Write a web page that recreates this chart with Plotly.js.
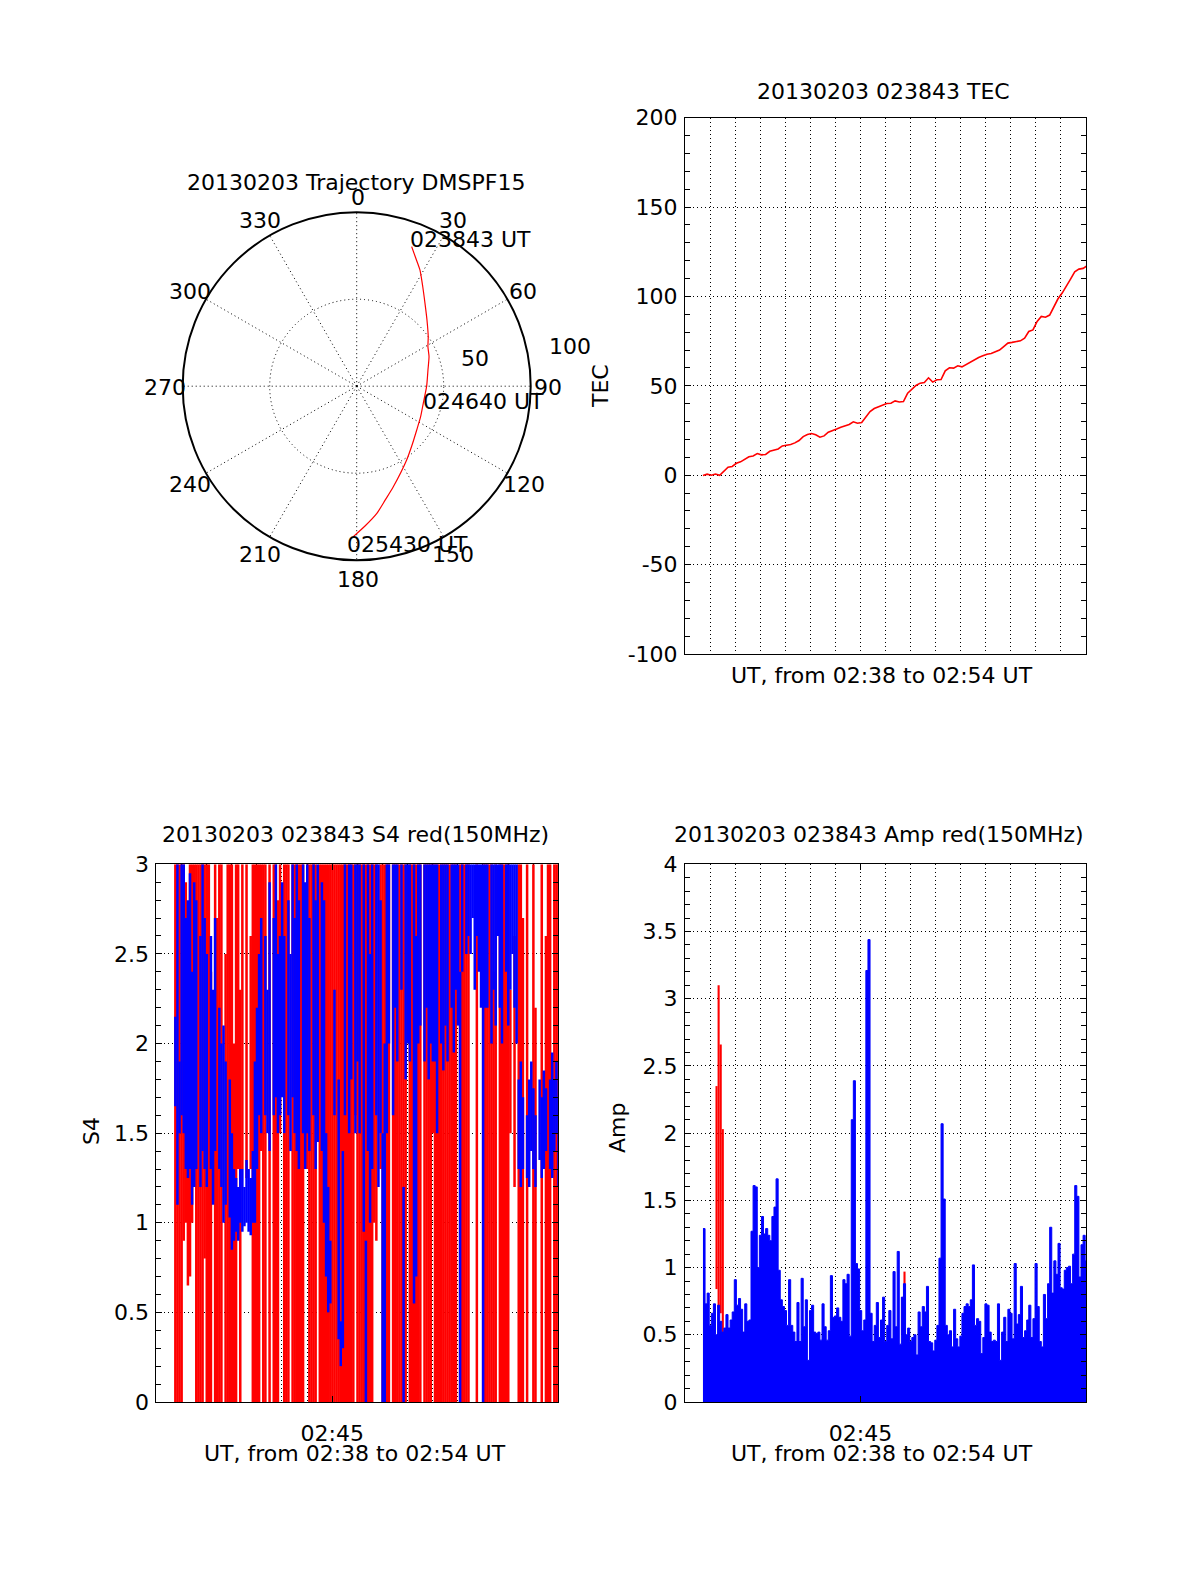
<!DOCTYPE html>
<html>
<head>
<meta charset="utf-8">
<script src="https://cdn.plot.ly/plotly-3.0.1.min.js"></script>
<style>html,body{margin:0;padding:0;background:#fff}#chart{width:1200px;height:1575px}</style>
</head>
<body>
<div id="chart"></div>
<script>
// ---------- data ----------
const startUTC = [2013, 1, 3, 2, 38, 43];   // 20130203 02:38:43 UT
const binSeconds = 5;                        // S4 / Amp sample bins
const tecStepSeconds = 10;                   // TEC sample spacing

// Trajectory (radius, azimuth deg)
const trajR     = [86.2, 81.0, 76.0, 68.6, 61.7, 55.5, 50.0, 46.8, 44.9, 42.0, 40.2, 39.5, 40.7, 42.7, 46.5, 51.2, 61.5, 67.4, 74.0, 80.5, 86.5];
const trajTheta = [21.5, 24.8, 28.6, 33.6, 39.5, 46.7, 55.3, 61.0, 67.8, 77.2, 90.0, 104.4, 115.5, 126.1, 136.9, 145.9, 160.0, 165.9, 171.0, 176.6, 181.3];
const trajLabels = ['023843 UT', '024640 UT', '025430 UT'];
const angularTicks = ['0', '30', '60', '90', '120', '150', '180', '210', '240', '270', '300', '330'];
const radialLabels = ['50', '100'];

// TEC values every 10 s from 02:38:43
const tecValues = [
 -0.2, 0.6, 0.0, 0.7, 0.0, 2.4, 4.5, 4.9, 6.7, 7.5,
  8.8, 10.3, 10.8, 12.1, 11.4, 11.6, 13.4, 14.2, 14.7, 16.4,
 16.6, 17.2, 18.1, 19.4, 21.6, 22.8, 23.3, 22.6, 21.3, 22.0,
 24.1, 25.2, 25.9, 26.9, 27.6, 28.4, 29.9, 29.1, 29.5, 32.8,
 35.6, 37.3, 38.2, 39.2, 40.1, 40.3, 41.6, 41.0, 41.2, 45.9,
 47.8, 50.2, 51.5, 51.9, 54.5, 52.1, 53.4, 53.5, 58.4, 60.1,
 59.9, 61.2, 60.6, 61.9, 63.4, 64.7, 65.9, 66.8, 67.7, 68.1,
 69.2, 70.0, 72.0, 73.9, 74.3, 74.6, 75.2, 76.7, 80.4, 81.3,
 86.0, 88.8, 88.4, 89.6, 94.4, 98.7, 101.9, 105.6, 109.7, 113.8,
 115.3, 115.7, 117.2
];
const tecTickVals = [-100, -50, 0, 50, 100, 150, 200];
const tecTickText = ['-100', '-50', '0', '50', '100', '150', '200'];

// S4 red channel: per-bin low / high
const s4RedLo = [
 0,0,0,0,0.9,1.0,0.65,0.7,1.0,1.4,
 0,0,0,0,0.8,0,0,0,null,0,
 0,0,0,null,0,0,0,0,0,0,
 1.3,0,1.3,null,1.25,null,1.3,0,0,0,
 0,1.4,0,0,null,0,null,0,0,0,
 1.5,null,0,0,0,null,0,0,0,0,
 0,0,null,1.3,0,0,0,0,null,0,
 0,0,0,0,0,0,0,0,0,0,
 0,0,0,0,0,0,1.6,0,0,0,
 0,0,0,0,0,1.0,0.9,null,1.3,0,
 0,0,0,null,0,0,0,0,0,0,
 0,null,0,0,0,0,0,0,null,0,
 0,0,0,1.5,0,0,0,0,0,0,
 0,0,0,0,0,null,0,0,0,0,
 0,null,null,null,0,null,null,0,0,0,
 0,0,0,0,null,0,0,0,0,0,
 1.5,null,1.2,null,0,0,0,null,0,null,
 null,0,0,null,null,0,null,0,0,0,
 null,0,0,0
];
const s4RedHi = [
 3,3,3,3,3,2.9,1.3,3,3,3,
 3,3,3,3,3,3,3,2.4,null,3,
 2.7,3,3,null,2.5,3,3,3,2.0,3,
 3,2.3,3,null,3,null,2.6,3,3,3,
 3,3,3,3,null,3,null,3,3,2.8,
 3,null,3,3,3,null,3,3,3,3,
 3,3,null,3,3,3,3,3,null,3,
 3,3,3,3,3,3,3,3,3,3,
 3,3,3,3,3,3,3,3,3,3,
 3,3,3,3,3,3,3,null,3,3,
 3,3,3,null,3,3,3,3,3,3,
 3,null,3,3,3,3,3,3,null,3,
 3,3,3,3,3,3,3,3,3,3,
 3,3,3,3,3,null,3,3,3,3,
 3,null,null,null,3,null,null,3,3,3,
 3,3,2.4,3,null,3,3,3,3,3,
 2.3,null,2.6,null,3,3,2.7,null,3,null,
 null,3,2.2,null,null,3,null,2.6,3,3,
 null,3,3,3
];
// S4 blue channel: per-bin low / high
const s4BlueLo = [
 1.65,1.1,1.5,1.6,1.5,1.3,1.25,1.3,1.1,1.2,
 1.3,null,1.2,1.4,1.3,1.2,null,1.3,1.1,1.4,
 null,1.3,1.2,1.0,1.1,null,1.03,0.85,0.9,0.95,
 0.9,1.0,0.95,0.98,1.0,0.95,0.93,1.0,1.0,1.3,
 1.6,1.5,null,1.6,1.5,1.4,null,1.6,1.7,1.5,
 1.6,1.7,1.5,null,1.6,1.4,1.7,1.5,1.4,1.3,
 null,1.5,1.3,1.5,1.4,null,1.6,1.3,1.45,null,
 1.4,1.0,0.7,0.5,0.55,null,1.6,null,0.35,0.2,
 0.3,1.6,null,1.5,1.8,null,1.5,1.9,1.5,null,
 0.95,0,1.4,1.0,1.3,null,1.6,1.2,1.5,0,
 0,1.5,2.0,null,1.6,2.2,1.9,null,2.3,0,
 1.8,2.0,1.9,null,0.55,0.7,2.0,2.1,null,1.9,
 2.2,1.8,2.0,1.9,1.9,1.5,null,2.0,1.85,2.1,
 1.9,null,2.2,1.95,2.3,2.1,0,2.4,null,2.5,
 2.6,2.5,2.7,2.3,2.6,2.4,2.2,0,2.2,2.2,
 null,2.0,2.3,2.1,2.6,2.2,2.0,null,2.4,2.1,
 2.3,2.5,2.2,2.0,1.3,1.2,1.3,null,1.25,1.2,
 1.4,1.3,1.2,null,1.35,1.25,1.3,1.4,null,1.3,
 1.25,1.4,1.5,1.2
];
const s4BlueHi = [
 2.15,3,1.9,3,3,2.7,2.8,2.95,2.4,2.9,
 2.8,null,2.6,3,2.7,2.5,null,2.6,2.3,2.7,
 null,2.2,2.0,2.1,1.9,null,1.8,1.5,1.3,1.25,
 1.2,1.3,1.3,1.2,1.35,1.3,1.25,1.4,1.9,2.2,
 2.5,2.7,null,2.6,2.3,2.9,null,2.7,3,2.5,
 2.6,2.9,2.6,null,2.8,2.5,3,2.7,3,2.8,
 null,3,2.9,3,2.7,null,3,2.8,3,null,
 2.9,2.8,1.5,1.2,0.9,null,2.3,null,1.8,0.45,
 1.4,3,null,3,3,null,3,3,3,null,
 3,0.9,3,2.5,3,null,3,3,2.8,1.5,
 2.0,3,3,null,3,3,3,null,3,1.2,
 3,3,3,null,3,2.6,3,3,null,3,
 3,3,3,3,3,3,null,3,3,3,
 3,null,3,3,3,3,2.4,3,null,3,
 3,3,3,3,3,3,3,3,3,3,
 null,3,3,3,3,3,3,null,3,3,
 3,3,3,3,1.8,1.9,1.7,null,1.6,1.8,
 1.9,1.75,1.6,null,1.8,1.7,1.85,1.75,null,1.8,
 1.95,1.8,1.9,1.7
];

// Amp blue channel per bin
const ampBlue = [
 1.29,0.73,0.81,0.57,0.66,0.73,0.5,0.72,0.6,0.52,
 0.55,0.65,0.55,0.61,0.67,0.91,0.72,0.77,0.69,0.52,
 0.73,0.6,0.61,1.27,1.61,1.6,1.0,1.24,1.38,1.25,
 1.29,1.24,1.2,1.38,1.45,1.66,0.98,0.76,0.71,0.68,
 0.57,0.91,0.57,0.52,0.45,0.74,0.45,0.92,0.56,0.76,
 0.31,0.68,0.72,0.52,0.51,0.52,0.46,0.73,0.56,0.46,
 0.53,0.94,0.63,0.64,0.7,0.63,0.6,0.91,0.88,0.95,
 0.49,2.1,2.39,1.03,0.99,0.68,0.53,0.61,3.21,3.44,
 0.66,0.45,0.57,0.74,0.48,0.61,0.78,0.45,0.57,0.68,
 0.47,0.97,0.56,1.12,0.43,0.78,0.88,0.5,0.55,0.45,
 0.48,0.5,0.35,0.67,0.56,0.71,0.67,0.86,0.45,0.44,
 0.38,0.46,0.57,1.07,2.07,1.51,0.57,0.5,0.53,0.41,
 0.69,0.47,0.41,0.49,0.66,0.71,0.73,0.71,0.76,1.02,
 0.57,0.62,0.6,0.36,0.48,0.73,0.72,0.52,0.45,0.46,
 0.45,0.73,0.31,0.52,0.63,0.45,0.69,0.66,0.47,1.03,
 0.58,0.65,0.86,0.48,0.53,0.61,0.72,0.48,0.62,1.03,
 0.71,0.45,0.41,0.8,0.62,0.88,1.3,0.81,1.05,0.95,
 1.18,0.85,0.84,0.98,1.0,1.01,0.88,1.1,1.61,1.53,
 0.93,1.17,1.24,1.05
];
// Amp red channel (only the bins where it shows)
const ampRedBins = [6, 7, 8, 9, 73, 79, 95, 96, 98];
const ampRedLo   = [0.84, 0.7, 0.66, 0.42, 0, 0, 0.5, 0.65, 0.45];
const ampRedHi   = [2.35, 3.1, 2.66, 2.03, 0.06, 0.1, 0.78, 0.97, 0.52];

// ---------- helpers ----------
const t0 = Date.UTC(...startUTC);
const binTime = i => t0 + (i * binSeconds + binSeconds / 2) * 1000;
const binStart = i => t0 + i * binSeconds * 1000;
const binTimes = s4RedHi.map((_, i) => binTime(i));
const tecTimes = tecValues.map((_, k) => t0 + k * tecStepSeconds * 1000);
const span = (lo, hi) => lo.map((v, i) => (v === null || hi[i] === null) ? null : +(hi[i] - v).toFixed(3));
const minuteTicks = [];
for (let m = 38; m <= 54; m++) minuteTicks.push('2013-02-03 02:' + String(m).padStart(2, '0') + ':00');

// step outline for the filled Amp trace (each bin held flat over its 5 s)
const ampStepX = [], ampStepY = [];
ampBlue.forEach((v, i) => { ampStepX.push(binStart(i), binStart(i + 1)); ampStepY.push(v, v); });

const RED = '#ff0000', BLUE = '#0000ff', BLACK = '#000000';
const DOT = '1px,3px';
const FONT = 'DejaVu Sans';
const FS = 22;
const W = 1200, H = 1575;
const px = x => x / W, py = y => 1 - y / H;
const barW = binSeconds * 1000 + 1000;   // slight overlap to avoid hairline seams

// ---------- traces ----------
const traces = [
  { type: 'scatterpolar', subplot: 'polar', r: trajR, theta: trajTheta, mode: 'lines',
    line: { color: RED, width: 1.2, shape: 'spline', smoothing: 0.6 }, hoverinfo: 'skip' },
  { type: 'scatter', xaxis: 'x', yaxis: 'y', x: tecTimes, y: tecValues, mode: 'lines',
    line: { color: RED, width: 1.6 }, hoverinfo: 'skip' },
  { type: 'bar', xaxis: 'x2', yaxis: 'y2', x: binTimes, base: s4RedLo, y: span(s4RedLo, s4RedHi),
    width: barW, marker: { color: RED, line: { width: 0 } }, hoverinfo: 'skip' },
  { type: 'bar', xaxis: 'x2', yaxis: 'y2', x: binTimes, base: s4BlueLo, y: span(s4BlueLo, s4BlueHi),
    width: barW, marker: { color: BLUE, line: { width: 0 } }, hoverinfo: 'skip' },
  { type: 'scatter', xaxis: 'x3', yaxis: 'y3', x: ampStepX, y: ampStepY, mode: 'lines',
    fill: 'tozeroy', fillcolor: BLUE, line: { color: BLUE, width: 1 }, hoverinfo: 'skip' },
  { type: 'bar', xaxis: 'x3', yaxis: 'y3', x: ampRedBins.map(binTime), base: ampRedLo, y: span(ampRedLo, ampRedHi),
    width: binSeconds * 1000, marker: { color: RED, line: { width: 0 } }, hoverinfo: 'skip' }
];

// ---------- axes ----------
function xAxis(domain, anchor, labelled) {
  return {
    type: 'date', domain: domain, anchor: anchor,
    range: ['2013-02-03 02:38:00', '2013-02-03 02:54:00'],
    showline: true, linecolor: BLACK, linewidth: 1, mirror: 'ticks',
    tickmode: 'array',
    tickvals: labelled ? ['2013-02-03 02:45:00'] : [],
    ticktext: labelled ? ['02:45'] : [],
    ticks: labelled ? 'inside' : '', ticklen: 6, tickcolor: BLACK,
    tickfont: { family: FONT, size: FS, color: BLACK },
    showgrid: true, gridcolor: BLACK, griddash: DOT, gridwidth: 1,
    minor: { tickmode: 'array', tickvals: minuteTicks, showgrid: true, gridcolor: BLACK,
             griddash: DOT, gridwidth: 1, ticks: '' },
    zeroline: false, ticklabelstandoff: 12, fixedrange: true
  };
}
function yAxis(domain, anchor, range, dtick, minorDtick, standoff, vals, texts) {
  const a = {
    domain: domain, anchor: anchor, range: range, tickmode: 'linear', tick0: 0, dtick: dtick,
    showline: true, linecolor: BLACK, linewidth: 1, mirror: 'ticks',
    ticks: 'inside', ticklen: 6, tickcolor: BLACK,
    tickfont: { family: FONT, size: FS, color: BLACK },
    showgrid: true, gridcolor: BLACK, griddash: DOT, gridwidth: 1,
    minor: { dtick: minorDtick, tick0: 0, ticks: 'inside', ticklen: 5, tickcolor: BLACK, showgrid: false },
    zeroline: false, ticklabelstandoff: standoff, fixedrange: true
  };
  if (vals) { a.tickmode = 'array'; a.tickvals = vals; a.ticktext = texts; }
  return a;
}

const xRight = [px(685), px(1086)];
const xLeft = [px(156.3), px(558.3)];
const yTop = [py(654), py(117.7)];
const yBottom = [py(1402), py(864.3)];

function ann(text, x, y, opts) {
  return Object.assign({ text: text, x: px(x), y: py(y), xref: 'paper', yref: 'paper',
    showarrow: false, xanchor: 'center', yanchor: 'middle', font: { family: FONT, size: FS, color: BLACK } }, opts || {});
}

// angular label centres around the trajectory circle (pixel positions)
const angLabelPos = [[357.5,197],[453,220.8],[523.3,291.7],[548,387],[524,484],[453,554.7],
                     [357.5,579.5],[260,554.7],[190,484],[165,387],[190,291.7],[260,220.8]];

const layout = {
  width: W, height: H, margin: { l: 0, r: 0, t: 0, b: 0 },
  paper_bgcolor: '#fff', plot_bgcolor: '#fff', showlegend: false,
  font: { family: FONT, size: FS, color: BLACK },
  barmode: 'overlay',
  polar: {
    domain: { x: [px(182.7), px(530.7)], y: [py(560.2), py(212.2)] },
    bgcolor: '#fff',
    angularaxis: {
      rotation: 90, direction: 'clockwise', tickmode: 'array',
      tickvals: angularTicks.map(Number), showticklabels: false,
      showline: true, linecolor: BLACK, linewidth: 2,
      showgrid: true, gridcolor: BLACK, griddash: DOT, gridwidth: 1, ticks: ''
    },
    radialaxis: {
      range: [0, 100], showline: false, showticklabels: false, ticks: '',
      tickmode: 'array', tickvals: [50], showgrid: true, gridcolor: BLACK, griddash: DOT, gridwidth: 1
    }
  },
  xaxis: xAxis(xRight, 'y', false),
  yaxis: yAxis(yTop, 'x', [-100, 200], 50, 10, 2, tecTickVals, tecTickText),
  xaxis2: xAxis(xLeft, 'y2', true),
  yaxis2: yAxis(yBottom, 'x2', [0, 3], 0.5, 0.1, 2),
  xaxis3: xAxis(xRight, 'y3', true),
  yaxis3: yAxis(yBottom, 'x3', [0, 4], 0.5, 0.1, 2),
  annotations: [
    ann('20130203 Trajectory DMSPF15', 355.8, 183),
    ann('20130203 023843 TEC', 883.4, 91),
    ann('20130203 023843 S4 red(150MHz)', 355.8, 834),
    ann('20130203 023843 Amp red(150MHz)', 879, 834),
    ann('TEC', 600, 386, { textangle: -90 }),
    ann('S4', 91, 1131, { textangle: -90 }),
    ann('Amp', 617, 1128, { textangle: -90 }),
    ann('UT, from 02:38 to 02:54 UT', 882, 676),
    ann('UT, from 02:38 to 02:54 UT', 355, 1453),
    ann('UT, from 02:38 to 02:54 UT', 882, 1453),
    ann(trajLabels[0], 408, 239.5, { xanchor: 'left' }),
    ann(trajLabels[1], 421.3, 401.7, { xanchor: 'left' }),
    ann(trajLabels[2], 344.7, 544.7, { xanchor: 'left' }),
    ann(radialLabels[0], 475, 358),
    ann(radialLabels[1], 569.7, 346.3)
  ].concat(angularTicks.map((t, i) => ann(t, angLabelPos[i][0], angLabelPos[i][1])))
};

Plotly.newPlot('chart', traces, layout, { staticPlot: true, displayModeBar: false });
</script>
</body>
</html>
